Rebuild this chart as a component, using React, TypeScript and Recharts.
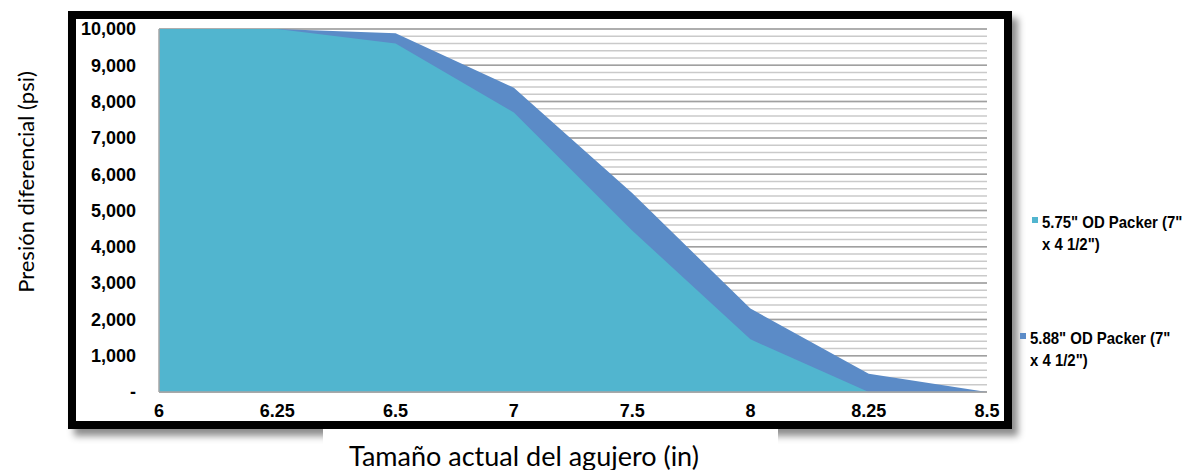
import React from "react";
import { Area, AreaChart, CartesianGrid, XAxis, YAxis } from "recharts";

const sizes = ["6", "6.25", "6.5", "7", "7.5", "8", "8.25", "8.5"];
const packer575 = [10000, 10000, 9600, 7700, 4450, 1450, 0, 0];
const packer588 = [10000, 10000, 9880, 8380, 5480, 2300, 500, 0];
const yTicks = [0, 1000, 2000, 3000, 4000, 5000, 6000, 7000, 8000, 9000, 10000];
const gridTicks = Array.from({ length: 51 }, (_, i) => i * 200);

const seriesInfo = [
  { key: "p575", line1: '5.75" OD Packer (7"', line2: 'x 4 1/2")', color: "#51B5CF" },
  { key: "p588", line1: '5.88" OD Packer (7"', line2: 'x 4 1/2")', color: "#5B8BC7" },
];

const data = sizes.map((s, i) => ({ size: s, p575: packer575[i], p588: packer588[i] }));

const tickFont = { fontFamily: "'Liberation Sans', Arial, sans-serif", fontWeight: 700, fontSize: 18, fill: "#000" };
const fmtY = (v: number) => (v === 0 ? "-" : v.toLocaleString("en-US"));

function LegendBox() {
  // legend entries sit at slightly different offsets in the source image
  const spots = [
    { sqLeft: 1032, sqTop: 217, textLeft: 1042, textTop: 210.5 },
    { sqLeft: 1020, sqTop: 333, textLeft: 1030, textTop: 326.5 },
  ];
  return (
    <>
      {seriesInfo.map((s, i) => (
        <React.Fragment key={s.key}>
          <div
            style={{
              position: "absolute",
              left: spots[i].sqLeft,
              top: spots[i].sqTop,
              width: 6,
              height: 6,
              background: s.color,
            }}
          />
          <div
            style={{
              position: "absolute",
              left: spots[i].textLeft,
              top: spots[i].textTop,
              fontFamily: "'Liberation Sans', Arial, sans-serif",
              fontWeight: 700,
              fontSize: 16.5,
              lineHeight: "22px",
              color: "#000",
              whiteSpace: "nowrap",
              transform: "scaleX(0.905)",
              transformOrigin: "left top",
            }}
          >
            {s.line1}
            <br />
            {s.line2}
          </div>
        </React.Fragment>
      ))}
    </>
  );
}

export default function App() {
  return (
    <div style={{ position: "absolute", left: 0, top: 0, width: 1194, height: 470, background: "#fff", overflow: "hidden" }}>
      <div
        style={{
          position: "absolute",
          left: 68,
          top: 11,
          width: 944,
          height: 418,
          border: "8px solid #000",
          boxSizing: "border-box",
          background: "#fff",
          boxShadow: "6px 7px 7px rgba(0,0,0,0.45)",
        }}
      />
      <div style={{ position: "absolute", left: 323, top: 429, width: 455, height: 41, background: "#fff" }} />
      <div
        style={{
          position: "absolute",
          left: 25,
          top: 182,
          transform: "translate(-50%, -50%) rotate(-90deg)",
          fontFamily: "Lato, sans-serif",
          fontSize: 22,
          whiteSpace: "nowrap",
          color: "#000",
        }}
      >
        Presión diferencial (psi)
      </div>
      <div
        style={{
          position: "absolute",
          left: 524,
          top: 455,
          transform: "translate(-50%, -50%)",
          fontFamily: "Lato, sans-serif",
          fontSize: 27,
          whiteSpace: "nowrap",
          color: "#000",
        }}
      >
        Tamaño actual del agujero (in)
      </div>
      <div style={{ position: "absolute", left: 0, top: 0 }}>
        <AreaChart width={1194} height={470} data={data} margin={{ top: 29, right: 207, bottom: 48, left: 79 }}>
          <CartesianGrid vertical={false} stroke="#CACACA" strokeWidth={1.5} horizontalValues={gridTicks} />
          <CartesianGrid vertical={false} stroke="#A0A0A0" strokeWidth={1.5} />
          <XAxis
            dataKey="size"
            tickLine={false}
            axisLine={{ stroke: "#A6A6A6", strokeWidth: 1.5 }}
            tick={tickFont}
            tickMargin={6}
            height={30}
            interval={0}
          />
          <YAxis
            domain={[0, 10000]}
            ticks={yTicks}
            tickFormatter={fmtY}
            tickLine={false}
            axisLine={{ stroke: "#A6A6A6", strokeWidth: 1.5 }}
            tick={tickFont}
            tickMargin={17}
            width={80}
            interval={0}
          />
          <Area
            type="linear"
            dataKey="p588"
            name={seriesInfo[1].line1}
            fill={seriesInfo[1].color}
            fillOpacity={1}
            stroke="none"
            isAnimationActive={false}
          />
          <Area
            type="linear"
            dataKey="p575"
            name={seriesInfo[0].line1}
            fill={seriesInfo[0].color}
            fillOpacity={1}
            stroke="none"
            isAnimationActive={false}
          />
        </AreaChart>
      </div>
      <LegendBox />
    </div>
  );
}
